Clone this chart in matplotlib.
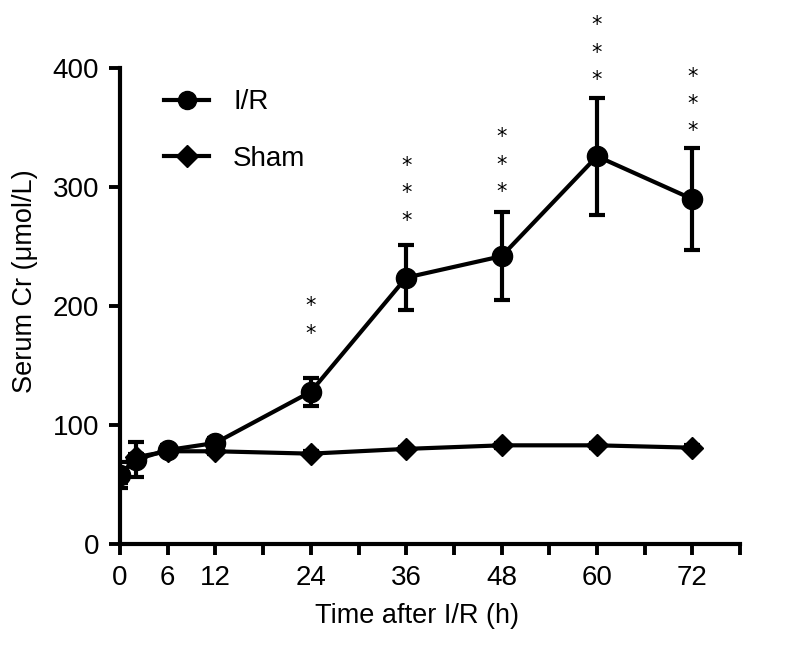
import matplotlib
matplotlib.use("Agg")
import matplotlib.pyplot as plt
from matplotlib.lines import Line2D

plt.rcParams['font.family'] = ['Liberation Sans', 'DejaVu Sans']

# Serum creatinine over time after ischemia/reperfusion
hours = [0, 2, 6, 12, 24, 36, 48, 60, 72]
ir_mean = [58, 71, 79, 85, 128, 224, 242, 326, 290]
ir_err = [11, 15, 4, 4, 12, 27, 37, 49, 43]
sham_mean = [57, 73, 78, 78, 76, 80, 83, 83, 81]
sham_err = [6, 3, 2, 2, 2, 2, 2, 2, 2]

# significance marks: time point, number of stars, lowest star (data units)
star_hours = [24, 36, 48, 60, 72]
star_counts = [2, 3, 3, 3, 3]
star_base = [177, 272, 296, 390, 347]

xticks = list(range(0, 79, 6))
xlabels = ['0', '6', '12', '', '24', '', '36', '', '48', '', '60', '', '72', '']

fig = plt.figure(figsize=(7.91, 6.5), dpi=100)
ax = fig.add_axes([0.1517, 0.163, 0.784, 0.732])

ax.errorbar(hours, sham_mean, yerr=sham_err, color='black', marker='D',
            markersize=11, lw=3, elinewidth=3, capsize=6, capthick=3,
            zorder=2)
ax.errorbar(hours, ir_mean, yerr=ir_err, color='black', marker='o',
            markersize=14.5, lw=3, elinewidth=3, capsize=6, capthick=3,
            zorder=3)

step = 23  # spacing between stacked stars, data units
for h, n, base in zip(star_hours, star_counts, star_base):
    for i in range(n):
        ax.text(h, base + i * step, '*', ha='center', va='center',
                fontsize=15, fontfamily='DejaVu Sans')

ax.set_xlim(0, 78)
ax.set_ylim(0, 400)
ax.set_xticks(xticks)
ax.set_xticklabels(xlabels)
ax.set_yticks([0, 100, 200, 300, 400])

for s in ['top', 'right']:
    ax.spines[s].set_visible(False)
for s in ['left', 'bottom']:
    ax.spines[s].set_linewidth(3)
ax.tick_params(direction='out', length=8, width=2.8, labelsize=20, pad=7)

ax.set_xlabel('Time after I/R (h)', fontsize=19.5)
ax.set_ylabel('Serum Cr (μmol/L)', fontsize=19.5)
ax.xaxis.set_label_coords(0.479, -0.124)
ax.yaxis.set_label_coords(-0.133, 0.5525)

handles = [
    Line2D([], [], color='black', lw=3, marker='o', markersize=13),
    Line2D([], [], color='black', lw=3, marker='D', markersize=11),
]
ax.legend(handles, ['I/R', 'Sham'], loc='upper left', frameon=False,
          fontsize=20, handlelength=1.65, labelspacing=1.1,
          bbox_to_anchor=(0.03, 1.008), handletextpad=0.85)

fig.savefig('out.png', dpi=100)
plt.close(fig)
